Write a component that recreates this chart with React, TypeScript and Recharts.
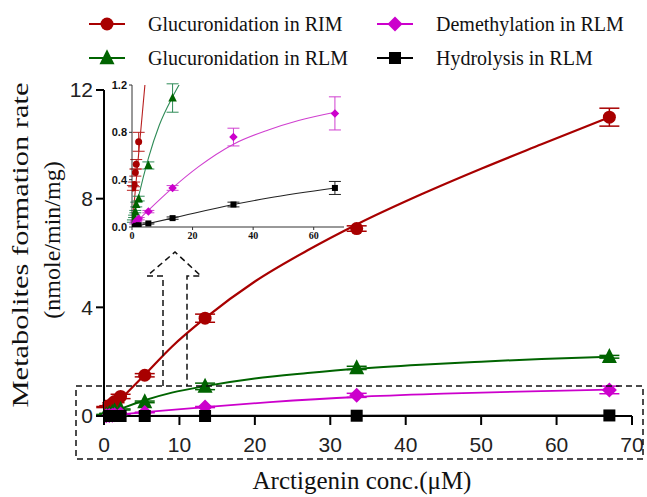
import React from 'react';
import { ComposedChart, Line, Scatter, XAxis, YAxis, ErrorBar } from 'recharts';

// Measured concentrations (µM)
const conc = [0.3, 0.7, 1.1, 1.4, 2.2, 5.4, 13.4, 33.5, 67];

// Series values (nmole/min/mg)
const rimGluc = [0.33, 0.36, 0.46, 0.53, 0.72, 1.5, 3.6, 6.9, 11.0];
const rimGlucErr = [0.02, 0.02, 0.03, 0.04, 0.08, 0.06, 0.15, 0.1, 0.33];
const rlmGluc = [0.05, 0.09, 0.13, 0.19, 0.24, 0.52, 1.09, 1.77, 2.18];
const rlmGlucErr = [0.01, 0.01, 0.01, 0.02, 0.02, 0.03, 0.12, 0.06, 0.05];
const rlmDemeth = [0.01, 0.02, 0.03, 0.05, 0.07, 0.13, 0.33, 0.76, 0.96];
const rlmDemethErr = [0, 0, 0.005, 0.005, 0.01, 0.01, 0.02, 0.075, 0.14];
// Hydrolysis: inset values, and the values as plotted in the main panel
const rlmHydro = [0.0, 0.0, 0.005, 0.01, 0.015, 0.03, 0.075, 0.19, 0.33];
const rlmHydroErr = [0, 0, 0, 0, 0, 0.005, 0.01, 0.02, 0.055];
const rlmHydroMain = [0, 0, 0, 0, 0, 0, 0, 0.01, 0.02];
const rlmHydroMainErr = [0, 0, 0, 0, 0, 0, 0, 0, 0];

// Fitted curves
const rimFitX = [0, 2.2, 5.4, 9, 13.4, 20, 27, 33.5, 42, 50, 58, 67];
const rimFitY = [0, 0.62, 1.52, 2.55, 3.6, 4.95, 6.1, 7.05, 8.15, 9.1, 10.0, 11.0];
const glucFitX = [0, 2.2, 5.4, 9, 13.4, 20, 27, 33.5, 42, 50, 58, 67];
const glucFitY = [0, 0.26, 0.58, 0.86, 1.1, 1.38, 1.58, 1.74, 1.89, 2.0, 2.1, 2.18];
const demFitX = [0, 2.2, 5.4, 13.4, 22, 33.5, 45, 55, 67];
const demFitY = [0, 0.06, 0.14, 0.33, 0.51, 0.7, 0.82, 0.9, 0.97];
const hydFitX = [0, 5.4, 13.4, 33.5, 45, 67];
const hydFitY = [0, 0.03, 0.075, 0.19, 0.245, 0.33];
const hydFitMainX = [0, 33.5, 67];
const hydFitMainY = [0, 0.01, 0.02];

// Ticks
const mainXTicks = [0, 10, 20, 30, 40, 50, 60, 70];
const mainYTicks = [0, 4, 8, 12];
const insetXTicks = [0, 20, 40, 60];
const insetYTicks = [0, 0.4, 0.8, 1.2];

const legendLabels = [
  'Glucuronidation in RIM',
  'Glucuronidation in RLM',
  'Demethylation in RLM',
  'Hydrolysis in RLM',
];

const toPts = (ys: number[], errs: number[]) => conc.map((x, i) => ({ x, y: ys[i], err: errs[i] }));
const toFit = (xs: number[], ys: number[]) => xs.map((x, i) => ({ x, y: ys[i] }));

const RED = '#A80000';
const GREEN = '#006400';
const MAG = '#CC00CC';
const BLK = '#000000';

type Kind = 'circle' | 'triangle' | 'diamond' | 'square';

const marker = (kind: Kind, s: number, color: string, cx: number, cy: number, key?: any) => {
  switch (kind) {
    case 'circle':
      return <circle key={key} cx={cx} cy={cy} r={s / 2} fill={color} />;
    case 'triangle':
      return (
        <polygon
          key={key}
          points={`${cx},${cy - s * 0.58} ${cx - s / 2},${cy + s * 0.42} ${cx + s / 2},${cy + s * 0.42}`}
          fill={color}
        />
      );
    case 'diamond':
      return (
        <polygon
          key={key}
          points={`${cx},${cy - s / 2} ${cx + s / 2},${cy} ${cx},${cy + s / 2} ${cx - s / 2},${cy}`}
          fill={color}
        />
      );
    default:
      return <rect key={key} x={cx - s / 2} y={cy - s / 2} width={s} height={s} fill={color} />;
  }
};

const shape = (kind: Kind, s: number, color: string) => (props: any) => {
  const { cx, cy } = props;
  if (cx == null || cy == null || isNaN(cx) || isNaN(cy)) return <g />;
  return marker(kind, s, color, cx, cy);
};

const series = [
  { name: legendLabels[0], kind: 'circle' as Kind, color: RED, insetLine: '#B82020', pts: toPts(rimGluc, rimGlucErr), mainPts: toPts(rimGluc, rimGlucErr), fit: toFit(rimFitX, rimFitY), mainFit: toFit(rimFitX, rimFitY), size: 13, isize: 7, lw: 2.2 },
  { name: legendLabels[1], kind: 'triangle' as Kind, color: GREEN, insetLine: '#2E8B57', pts: toPts(rlmGluc, rlmGlucErr), mainPts: toPts(rlmGluc, rlmGlucErr), fit: toFit(glucFitX, glucFitY), mainFit: toFit(glucFitX, glucFitY), size: 15, isize: 8.5, lw: 2 },
  { name: legendLabels[2], kind: 'diamond' as Kind, color: MAG, insetLine: '#D040D0', pts: toPts(rlmDemeth, rlmDemethErr), mainPts: toPts(rlmDemeth, rlmDemethErr), fit: toFit(demFitX, demFitY), mainFit: toFit(demFitX, demFitY), size: 15, isize: 8.5, lw: 1.8 },
  { name: legendLabels[3], kind: 'square' as Kind, color: BLK, insetLine: '#222222', pts: toPts(rlmHydro, rlmHydroErr), mainPts: toPts(rlmHydroMain, rlmHydroMainErr), fit: toFit(hydFitX, hydFitY), mainFit: toFit(hydFitMainX, hydFitMainY), size: 12, isize: 6, lw: 2 },
];

const sansTick = { fontSize: 21, fill: '#222', fontFamily: '"Liberation Sans", Arial, sans-serif' };

export default function App() {
  return (
    <div style={{ position: 'absolute', left: 0, top: 0, width: 647, height: 497, background: '#fff' }}>
      {/* Main chart */}
      <div style={{ position: 'absolute', left: 0, top: 0 }}>
        <ComposedChart width={647} height={497} margin={{ top: 90, right: 15, bottom: 51, left: 61 }}>
          <XAxis
            type="number"
            dataKey="x"
            domain={[0, 70]}
            ticks={mainXTicks}
            allowDataOverflow
            height={30}
            tickSize={9}
            tickMargin={12}
            tick={sansTick}
            axisLine={{ stroke: '#000', strokeWidth: 2 }}
            tickLine={{ stroke: '#000', strokeWidth: 2 }}
          />
          <YAxis
            type="number"
            dataKey="y"
            domain={[0, 12]}
            ticks={mainYTicks}
            width={43}
            tickSize={8}
            tickMargin={3}
            tick={sansTick}
            axisLine={{ stroke: '#000', strokeWidth: 2 }}
            tickLine={{ stroke: '#000', strokeWidth: 2 }}
          />
          {series.map((s) => (
            <Line
              key={'l' + s.name}
              data={s.mainFit}
              dataKey="y"
              type="monotone"
              stroke={s.color}
              strokeWidth={s.lw}
              dot={false}
              activeDot={false}
              isAnimationActive={false}
            />
          ))}
          {series.map((s) => (
            <Scatter
              key={'s' + s.name}
              data={s.mainPts}
              dataKey="y"
              shape={shape(s.kind, s.size, s.color)}
              isAnimationActive={false}
            >
              <ErrorBar dataKey="err" direction="y" width={10} stroke={s.color} strokeWidth={1.5} />
            </Scatter>
          ))}
        </ComposedChart>
      </div>

      {/* Inset chart */}
      <div style={{ position: 'absolute', left: 92, top: 75 }}>
        <ComposedChart width={270} height={175} margin={{ top: 10, right: 18, bottom: 7, left: 8 }}>
          <XAxis
            type="number"
            dataKey="x"
            domain={[0, 70]}
            ticks={insetXTicks}
            allowDataOverflow
            height={16}
            tickSize={3}
            tickMargin={2}
            tick={{ fontSize: 10, fill: '#111', fontWeight: 'bold', fontFamily: '"Liberation Serif", "Times New Roman", serif' }}
            axisLine={{ stroke: '#333', strokeWidth: 1 }}
            tickLine={{ stroke: '#333', strokeWidth: 1 }}
          />
          <YAxis
            type="number"
            dataKey="y"
            domain={[0, 1.2]}
            ticks={insetYTicks}
            allowDataOverflow
            width={32}
            tickSize={3}
            tickMargin={2}
            tickFormatter={(v: number) => v.toFixed(1)}
            tick={{ fontSize: 11, fill: '#111', fontWeight: 'bold', fontFamily: '"Liberation Sans", Arial, sans-serif' }}
            axisLine={{ stroke: '#333', strokeWidth: 1 }}
            tickLine={{ stroke: '#333', strokeWidth: 1 }}
          />
          {series.map((s) => (
            <Line
              key={'il' + s.name}
              data={s.fit}
              dataKey="y"
              type="monotone"
              stroke={s.insetLine}
              strokeWidth={1.1}
              dot={false}
              activeDot={false}
              isAnimationActive={false}
            />
          ))}
          {series.map((s) => (
            <Scatter
              key={'is' + s.name}
              data={s.pts.filter((p) => p.y <= 1.2)}
              dataKey="y"
              shape={shape(s.kind, s.isize, s.color)}
              isAnimationActive={false}
            >
              <ErrorBar dataKey="err" direction="y" width={6} stroke={s.insetLine} strokeWidth={1} />
            </Scatter>
          ))}
        </ComposedChart>
      </div>

      {/* Annotations: legend, axis titles, dashed box and arrow */}
      <svg
        width={647}
        height={497}
        style={{ position: 'absolute', left: 0, top: 0, pointerEvents: 'none' }}
      >
        <g fontFamily='"Liberation Serif", "Times New Roman", serif' fontSize={20} fill="#111">
          {series.map((s, i) => {
            const col = i < 2 ? 0 : 1;
            const row = i % 2;
            const mx = col === 0 ? 107 : 395;
            const my = row === 0 ? 24 : 58;
            return (
              <g key={'lg' + i}>
                <line x1={mx - 18} x2={mx + 18} y1={my} y2={my} stroke={s.color} strokeWidth={2} />
                {marker(s.kind, s.size, s.color, mx, my)}
                <text x={mx + 41} y={my + 7}>{s.name}</text>
              </g>
            );
          })}
        </g>
        <g fontFamily='"Liberation Serif", "Times New Roman", serif' fontSize={24} fill="#111">
          <text
            x={28}
            y={245}
            transform="rotate(-90 28 245)"
            textAnchor="middle"
            textLength={325}
            lengthAdjust="spacingAndGlyphs"
          >
            Metabolites formation rate
          </text>
          <text x={60} y={240} transform="rotate(-90 60 240)" textAnchor="middle">
            (nmole/min/mg)
          </text>
          <text x={362} y={489} textAnchor="middle" fontSize={25}>
            Arctigenin conc.(μM)
          </text>
        </g>
        <g fill="none" stroke="#111" strokeWidth={1.5} strokeDasharray="6 4">
          <rect x={76} y={386} width={567} height={73} />
          <path d="M163,386 L163,276 L147,276 L175,252 L201,276 L187,276 L187,386" />
        </g>
      </svg>
    </div>
  );
}
